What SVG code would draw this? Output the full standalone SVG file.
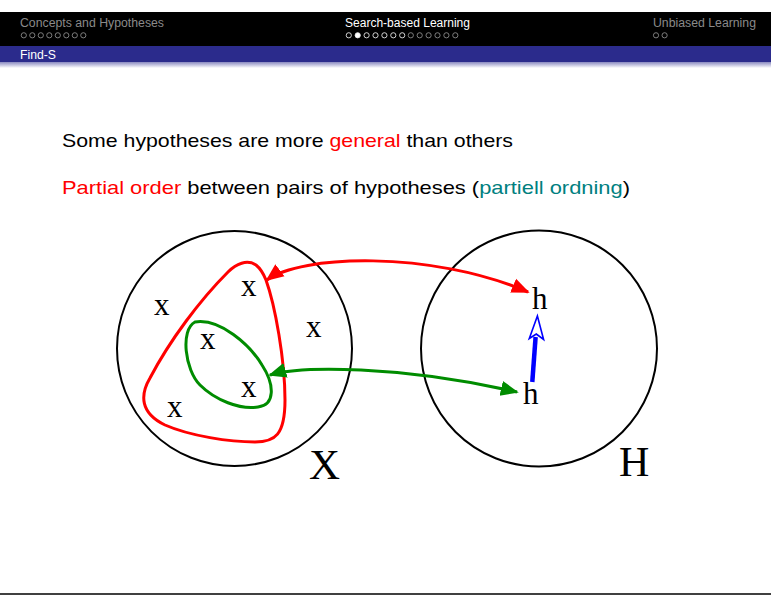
<svg xmlns="http://www.w3.org/2000/svg" width="771" height="596" viewBox="0 0 771 596">
<defs>
<style>
.hdr{font-family:"Liberation Sans","DejaVu Sans",sans-serif;font-size:12px}
.body{font-family:"Liberation Sans","DejaVu Sans",sans-serif;font-size:18.5px;fill:#000}
.serif{font-family:"Liberation Serif","Times New Roman",serif;fill:#000}
.dotg{fill:none;stroke:#8a8a8a;stroke-width:0.9}
.dotw{fill:none;stroke:#e6e6e6;stroke-width:0.9}
.big{fill:none;stroke:#000;stroke-width:2}
</style>
<linearGradient id="shade" x1="0" y1="0" x2="0" y2="1">
<stop offset="0" stop-color="#8a8ac0"/>
<stop offset="1" stop-color="#ffffff"/>
</linearGradient>
<marker id="ar" viewBox="0 0 10 10" refX="9" refY="5" markerWidth="6" markerHeight="6" orient="auto-start-reverse" markerUnits="strokeWidth">
<path d="M0,0.8 L10,5 L0,9.2 Z" fill="#ff0000"/>
</marker>
<marker id="ag" viewBox="0 0 10 10" refX="9" refY="5" markerWidth="6" markerHeight="6" orient="auto-start-reverse" markerUnits="strokeWidth">
<path d="M0,0.8 L10,5 L0,9.2 Z" fill="#008c00"/>
</marker>
</defs>
<rect width="771" height="596" fill="#fff"/>
<g id="header">
<rect x="0" y="12" width="771" height="34" fill="#000"/>
<rect x="0" y="46" width="771" height="16" fill="#2b2b8c"/>
<rect x="0" y="62" width="771" height="6" fill="url(#shade)"/>
<text class="hdr" x="20" y="27" fill="#8a8a8a" textLength="144" lengthAdjust="spacingAndGlyphs">Concepts and Hypotheses</text>
<text class="hdr" x="345" y="27" fill="#ffffff" textLength="125" lengthAdjust="spacingAndGlyphs">Search-based Learning</text>
<text class="hdr" x="653" y="27" fill="#8a8a8a" textLength="103" lengthAdjust="spacingAndGlyphs">Unbiased Learning</text>
<text class="hdr" x="20" y="59" fill="#ffffff" textLength="36" lengthAdjust="spacingAndGlyphs">Find-S</text>
<g class="dotg">
<circle cx="23.8" cy="35.3" r="2.6"/><circle cx="32.3" cy="35.3" r="2.6"/><circle cx="40.8" cy="35.3" r="2.6"/><circle cx="49.3" cy="35.3" r="2.6"/><circle cx="57.8" cy="35.3" r="2.6"/><circle cx="66.3" cy="35.3" r="2.6"/><circle cx="74.8" cy="35.3" r="2.6"/><circle cx="83.3" cy="35.3" r="2.6"/>
<circle cx="656" cy="35.3" r="2.6"/><circle cx="664.6" cy="35.3" r="2.6"/>
<circle cx="410.8" cy="35.3" r="2.6"/><circle cx="419.7" cy="35.3" r="2.6"/><circle cx="428.6" cy="35.3" r="2.6"/><circle cx="437.5" cy="35.3" r="2.6"/><circle cx="446.4" cy="35.3" r="2.6"/><circle cx="455.3" cy="35.3" r="2.6"/>
</g>
<g class="dotw">
<circle cx="348.8" cy="35.3" r="2.6"/><circle cx="357.7" cy="35.3" r="2.6" fill="#fff"/><circle cx="366.6" cy="35.3" r="2.6"/><circle cx="375.5" cy="35.3" r="2.6"/><circle cx="384.4" cy="35.3" r="2.6"/><circle cx="393.3" cy="35.3" r="2.6"/><circle cx="402.2" cy="35.3" r="2.6"/>
</g>
</g>
<g id="text">
<text class="body" x="62" y="147" textLength="451" lengthAdjust="spacingAndGlyphs">Some hypotheses are more <tspan fill="#ff0000">general</tspan> than others</text>
<text class="body" x="62" y="194" textLength="568" lengthAdjust="spacingAndGlyphs"><tspan fill="#ff0000">Partial order</tspan> between pairs of hypotheses (<tspan fill="#008080">partiell ordning</tspan>)</text>
</g>
<g id="setX">
<circle class="big" cx="234.5" cy="348.5" r="117.5"/>
<text class="serif" x="309" y="479" font-size="43">X</text>
<text class="serif" x="154" y="315" font-size="31">x</text>
<text class="serif" x="241" y="296" font-size="31">x</text>
<text class="serif" x="200" y="349" font-size="31">x</text>
<text class="serif" x="306" y="337" font-size="31">x</text>
<text class="serif" x="241" y="397" font-size="31">x</text>
<text class="serif" x="167" y="417" font-size="31">x</text>
</g>
<g id="general-region">
<path d="M228,272 C236,264 247,259 256,265 C261,269 264,275 266,280 C275,305 285,360 285,400 C285,435 275,442 255,442 C230,442 190,436 165,425 C140,413 140,395 150,378 C170,340 200,300 228,272 Z" fill="none" stroke="#ff0000" stroke-width="3"/>
</g>
<g id="specific-region">
<path d="M195,322 C220,318 250,345 262,365 C275,385 275,405 258,407 C240,410 215,400 200,385 C185,370 180,330 195,322 Z" fill="none" stroke="#008c00" stroke-width="3"/>
</g>
<g id="setH">
<circle class="big" cx="539" cy="348.5" r="118"/>
<text class="serif" x="619" y="476" font-size="42">H</text>
<text class="serif" x="532" y="309" font-size="31">h</text>
<text class="serif" x="523" y="404" font-size="31">h</text>
</g>
<g id="connectors">
<path d="M267,280 C300,255 430,250 528,292" fill="none" stroke="#ff0000" stroke-width="3" marker-start="url(#ar)" marker-end="url(#ar)"/>
<path d="M270,375 C300,366 400,365 517,392" fill="none" stroke="#008c00" stroke-width="3" marker-start="url(#ag)" marker-end="url(#ag)"/>
<line x1="532.3" y1="382" x2="535.6" y2="337" stroke="#0000ff" stroke-width="4.5"/>
<path d="M537.4,316 L543.6,339.5 L536.3,334 L529.3,338.5 Z" fill="#fff" stroke="#0000ff" stroke-width="1.6" stroke-linejoin="miter"/>
</g>
<line x1="0" y1="594" x2="771" y2="594" stroke="#000" stroke-width="1.5"/>
</svg>
